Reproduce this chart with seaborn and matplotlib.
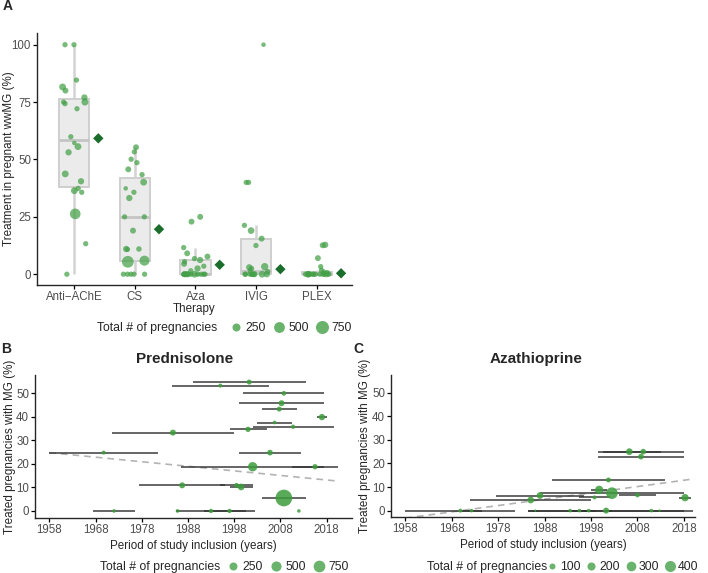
import numpy as np
import pandas as pd
import matplotlib
matplotlib.use("Agg")
import matplotlib.pyplot as plt
import seaborn as sns
from matplotlib.lines import Line2D

# ---------------- data: panel A ----------------
therapies = ["Anti\u2212AChE", "CS", "Aza", "IVIG", "PLEX"]
pct_antiache = [100, 100, 84.6, 81.6, 80, 77, 75, 74.3, 75, 72.1, 59.9, 57.2, 55.6, 53.1,
                43.7, 40.5, 37.4, 36.4, 35.7, 26.3, 13.3, 0]
n_antiache = [90, 90, 90, 170, 120, 140, 90, 90, 180, 90, 90, 60, 170, 140,
              170, 140, 90, 170, 90, 480, 90, 90]
pct_cs = [55.3, 53.3, 50.1, 48.6, 45.7, 43.4, 40.1, 37.4, 35.7, 33.2, 25, 25, 19,
          11, 11, 10.8, 5.9, 5.4, 0, 0, 0, 0, 0]
n_cs = [120, 90, 90, 90, 120, 90, 170, 60, 90, 140, 90, 90, 120,
        140, 100, 90, 420, 600, 90, 90, 90, 90, 90]
pct_aza = [25, 22.9, 11.6, 9.1, 7.7, 6.8, 6.2, 5.5, 4.5, 3.5, 2.5, 1.5,
           0, 0, 0, 0, 0, 0, 0, 0, 0, 0, 0, 0, 0]
n_aza = [120, 120, 90, 120, 120, 90, 140, 90, 120, 90, 140, 90,
         90, 90, 140, 90, 90, 170, 90, 90, 90, 140, 90, 90, 90]
pct_ivig = [100, 40, 40, 21.3, 19, 15.5, 12.5, 3.3, 3.0, 2.5, 1.6, 1.2,
            0, 0, 0, 0, 0, 0, 0, 0, 0]
n_ivig = [60, 90, 90, 90, 160, 120, 90, 200, 140, 90, 90, 90,
          140, 90, 120, 90, 170, 90, 90, 120, 90]
pct_plex = [12.8, 12.6, 7, 3.3, 1.7, 1.0, 0.5, 0, 0, 0, 0, 0, 0, 0, 0, 0, 0, 0, 0, 0, 0]
n_plex = [140, 120, 120, 90, 90, 90, 140, 90, 90, 170, 90, 90, 140, 90, 90, 90, 120, 90, 90, 90, 90]
pooled_pct = [59.2, 19.6, 4.1, 2.2, 0.4]
legend_A = [250, 500, 750]

# ---------------- data: panel B (Prednisolone) ----------------
B_start = [1989, 1984.5, 2000, 1999, 2004, 2016, 2003, 2002, 1997, 1971.5, 1958, 1999,
           1986.5, 2010.5, 1977.5, 1995, 1997, 2004, 1967.5, 1985.5, 1985.5, 1991.5, 2012]
B_end = [2013.5, 2005.5, 2017.5, 2017.5, 2011.5, 2018, 2010.5, 2019.5, 2005, 1998, 1981.5, 2012.5,
         2017.5, 2020.5, 1996, 2002, 2002, 2013.5, 1976.5, 1986, 2000.5, 2002.5, 2012]
B_pct = [54.8, 53.3, 50.0, 45.8, 43.3, 39.9, 37.6, 35.8, 34.7, 33.3, 24.8, 24.8,
         18.8, 18.8, 10.9, 10.9, 10.2, 5.5, 0, 0, 0, 0, 0]
B_n = [41, 11, 30, 91, 41, 110, 5, 18, 54, 91, 11, 74,
       396, 54, 91, 30, 137, 1855, 5, 5, 18, 18, 3]
B_trend = (24.8, -0.194)   # value at 1958, slope per year
legend_B = [250, 500, 750]

# ---------------- data: panel C (Azathioprine) ----------------
C_start = [1999.5, 2000.5, 1999.5, 1989.5, 1998, 1987, 2004, 1977.5, 1995.5, 1972, 2017,
           1958, 1970, 1985.5, 1984.5, 1993, 1996, 1984.5, 2002, 2012.5]
C_end = [2013, 2018, 2018, 2014, 2001.5, 2018, 2012, 1996.5, 2002, 1998, 2019.5,
         1981.7, 1974.5, 1986.5, 2002.5, 1998, 1999, 2018, 2020, 2013]
C_pct = [25, 25, 22.9, 13, 8.8, 7.4, 6.6, 6.4, 5.6, 4.5, 5.5,
         0, 0, 0, 0, 0, 0, 0, 0, 0]
C_n = [130, 88, 88, 64, 215, 450, 53, 130, 36, 130, 160,
       36, 28, 7, 28, 28, 28, 100, 28, 9]
C_trend = (-3.2, 0.268)
legend_C = [100, 200, 300, 400]

years_ticks = [1958, 1968, 1978, 1988, 1998, 2008, 2018]

# ---------------- styling ----------------
sns.set_theme(style="ticks")
plt.rcParams["font.family"] = ["Liberation Sans", "DejaVu Sans"]
plt.rcParams["axes.linewidth"] = 1.0
plt.rcParams["xtick.major.width"] = 0.9
plt.rcParams["ytick.major.width"] = 0.9
plt.rcParams["xtick.major.size"] = 2.7
plt.rcParams["ytick.major.size"] = 2.7

TICK_COL = "#4d4d4d"
GREEN = "#43a047"
DARK_GREEN = "#1b6d2b"
W, H = 708, 573
PX2PT = 0.72
AX_TITLE = 8.4


def area_A(n):
    d = 1.19 + 0.431 * np.sqrt(n)
    return (d * PX2PT) ** 2


def area_B(n):
    d = 2.96 + 0.319 * np.sqrt(n)
    return (d * PX2PT) ** 2


def area_C(n):
    d = 1.0 + 0.5 * np.sqrt(n)
    return (d * PX2PT) ** 2


def fig_rect(left, top, right, bottom):
    return [left / W, 1 - bottom / H, (right - left) / W, (bottom - top) / H]


fig = plt.figure(figsize=(W / 100, H / 100), dpi=100)

# ================= Panel A =================
axA = fig.add_axes(fig_rect(37, 33, 352, 285))
rows = []
for t, p, n in zip(therapies, [pct_antiache, pct_cs, pct_aza, pct_ivig, pct_plex],
                   [n_antiache, n_cs, n_aza, n_ivig, n_plex]):
    for pi, ni in zip(p, n):
        rows.append((t, pi, ni))
dfA = pd.DataFrame(rows, columns=["therapy", "pct", "n"])
dfA["idx"] = dfA["therapy"].map({t: i for i, t in enumerate(therapies)})
rng = np.random.default_rng(11)
dfA["xpos"] = dfA["idx"] + rng.uniform(-0.2, 0.2, len(dfA))

sns.boxplot(data=dfA, x="therapy", y="pct", order=therapies, ax=axA, width=0.5,
            showfliers=False, showcaps=False, color="#ebebeb", linecolor="#cfcfcf",
            linewidth=1.4, saturation=1,
            medianprops=dict(color="#c4c4c4", linewidth=2),
            whiskerprops=dict(color="#d3d3d3", linewidth=1.8))
sizesA = {v: area_A(v) for v in dfA["n"].unique()}
sns.scatterplot(data=dfA, x="xpos", y="pct", size="n", sizes=sizesA, color=GREEN,
                alpha=0.72, edgecolor="none", linewidth=0, legend=False, ax=axA, zorder=3)
dfM = pd.DataFrame({"x": np.arange(len(therapies)) + 0.4, "pct": pooled_pct})
sns.scatterplot(data=dfM, x="x", y="pct", marker="D", color=DARK_GREEN, s=28,
                edgecolor="none", ax=axA, zorder=4, legend=False)

axA.set_xlim(-0.61, 4.58)
axA.set_ylim(-4.7, 105.1)
axA.set_yticks([0, 25, 50, 75, 100])
axA.set_xticks(range(len(therapies)))
axA.set_xticklabels(therapies)
axA.set_xlabel("Therapy", fontsize=AX_TITLE, labelpad=0)
axA.set_ylabel("Treatment in pregnant wwMG (%)", fontsize=AX_TITLE)
axA.yaxis.set_label_coords((15 - 37) / 315, 0.5)
sns.despine(ax=axA)


# ================= Panel B & C =================
def range_panel(ax, start, end, pct, n, trend, areafn, xlim, ylim):
    df = pd.DataFrame({"start": start, "end": end, "pct": pct, "n": n})
    df["mid"] = (df["start"] + df["end"]) / 2
    tx = np.array([1958, 2020.3])
    dft = pd.DataFrame({"year": tx, "pct": trend[0] + trend[1] * (tx - 1958)})
    sns.lineplot(data=dft, x="year", y="pct", ax=ax, color="#b3b3b3", linewidth=1.2,
                 zorder=1)
    ax.lines[-1].set_dashes([4, 3])
    ax.hlines(df["pct"], df["start"], df["end"], color="#333333", alpha=0.75,
              linewidth=1.4, zorder=2)
    sizes = {v: areafn(v) for v in df["n"].unique()}
    sns.scatterplot(data=df, x="mid", y="pct", size="n", sizes=sizes, color="#3c9c3c",
                    alpha=0.85, edgecolor="none", linewidth=0, legend=False, ax=ax, zorder=3)
    ax.set_xlim(*xlim)
    ax.set_ylim(*ylim)
    ax.set_xticks(years_ticks)
    ax.set_yticks([0, 10, 20, 30, 40, 50])
    ax.set_xlabel("Period of study inclusion (years)", fontsize=AX_TITLE, labelpad=3)
    ax.set_ylabel("Treated pregnancies with MG (%)", fontsize=AX_TITLE)
    sns.despine(ax=ax)


axB = fig.add_axes(fig_rect(35, 375, 352, 518))
range_panel(axB, B_start, B_end, B_pct, B_n, B_trend, area_B, (1954.9, 2023.5), (-3.0, 57.8))
axB.yaxis.set_label_coords((16 - 35) / 317, 0.5)
axC = fig.add_axes(fig_rect(391, 375, 695, 517))
range_panel(axC, C_start, C_end, C_pct, C_n, C_trend, area_C, (1954.9, 2020.4), (-2.7, 57.5))
axC.yaxis.set_label_coords((371 - 391) / 304, 0.5)

for ax in (axA, axB, axC):
    ax.tick_params(axis="both", labelsize=8.3, labelcolor=TICK_COL, colors="black",
                   pad=1.6)
    for lab in ax.get_xticklabels() + ax.get_yticklabels():
        lab.set_color(TICK_COL)

# titles & panel letters
fig.text(185 / W, 1 - 359 / H, "Prednisolone", fontsize=11, fontweight="bold",
         ha="center", va="center")
fig.text(536 / W, 1 - 359 / H, "Azathioprine", fontsize=11, fontweight="bold",
         ha="center", va="center")
fig.text(3 / W, 1 - 6 / H, "A", fontsize=10, fontweight="bold", ha="left", va="center")
fig.text(1 / W, 1 - 349 / H, "B", fontsize=10, fontweight="bold", ha="left", va="center")
fig.text(353 / W, 1 - 349 / H, "C", fontsize=10, fontweight="bold", ha="left", va="center")


# size legends
def size_legend(values, areafn, title_x, leg_x, y, colsp, hlen, fs):
    fig.text(title_x / W, 1 - y / H, "Total # of pregnancies", fontsize=fs,
             ha="left", va="center")
    handles = [Line2D([], [], marker="o", linestyle="", color=GREEN, alpha=0.8,
                      markeredgewidth=0, markersize=np.sqrt(areafn(v))) for v in values]
    fig.legend(handles, [str(v) for v in values], loc="center left",
               bbox_to_anchor=(leg_x / W, 1 - y / H), ncol=len(values), frameon=False,
               fontsize=fs, handlelength=hlen, handletextpad=0.25, columnspacing=colsp,
               borderpad=0, borderaxespad=0)


size_legend(legend_A, area_A, 97, 230, 328, 0.6, 1.0, 8.8)
size_legend(legend_B, area_B, 100, 227, 567, 0.6, 1.0, 8.8)
size_legend(legend_C, area_C, 427, 547, 567, 0.5, 0.8, 8.8)

fig.savefig("out.png", dpi=100)
